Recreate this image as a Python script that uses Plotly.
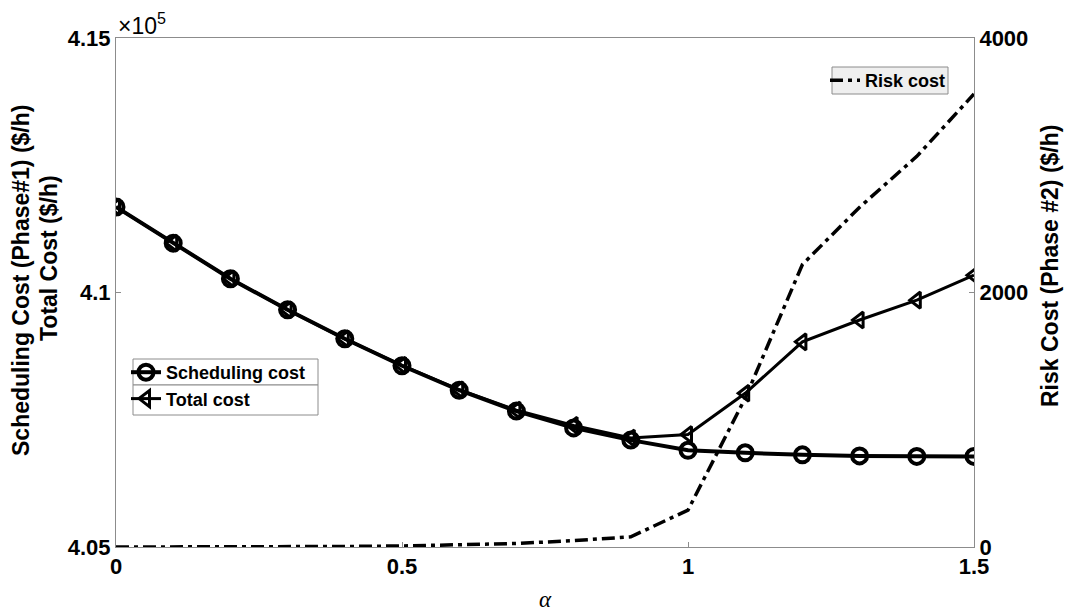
import plotly.graph_objects as go

# weighting factor alpha
alpha = [0.0, 0.1, 0.2, 0.3, 0.4, 0.5, 0.6, 0.7, 0.8, 0.9, 1.0, 1.1, 1.2, 1.3, 1.4, 1.5]

# Phase 1 scheduling cost ($/h)
scheduling_cost = [411680, 410970, 410270, 409660, 409090, 408560, 408080, 407670,
                   407340, 407100, 406900, 406850, 406810, 406790, 406780, 406780]

# total cost ($/h)
total_cost = [411680, 410970, 410270, 409660, 409090, 408570, 408090, 407690,
              407390, 407140, 407210, 408020, 409030, 409460, 409850, 410340]

# Phase 2 risk cost ($/h)
risk_cost = [0, 0, 1, 2, 4, 8, 15, 28, 50, 80, 290, 1170, 2220, 2670, 3070, 3560]

left_tickvals = [405000, 410000, 415000]
left_ticktext = ["4.05", "4.1", "4.15"]
right_tickvals = [0, 2000, 4000]
x_tickvals = [0, 0.5, 1, 1.5]
x_ticktext = ["0", "0.5", "1", "1.5"]

FONT = "Liberation Sans"
AXIS_GRAY = "#8c8c8c"

# plot area in pixels (from the margins below) for placing legend frames
PX_L, PX_R, PX_T, PX_B = 116, 974, 38, 547


def px_x(px):
    return (px - PX_L) / (PX_R - PX_L)


def px_y(py):
    return (PX_B - py) / (PX_B - PX_T)


fig = go.Figure()

fig.add_trace(go.Scatter(
    x=alpha, y=scheduling_cost, name="Scheduling cost", mode="lines+markers",
    line=dict(color="black", width=4),
    marker=dict(symbol="circle-open", size=15, color="black", line=dict(width=4)),
    legend="legend",
))
fig.add_trace(go.Scatter(
    x=alpha, y=total_cost, name="Total cost", mode="lines+markers",
    line=dict(color="black", width=3),
    marker=dict(symbol="triangle-left-open", size=14, color="black", line=dict(width=3)),
    legend="legend",
))
fig.add_trace(go.Scatter(
    x=alpha, y=risk_cost, name="Risk cost", mode="lines", yaxis="y2",
    line=dict(color="black", width=3.5, dash="13px,5px,4px,5px"),
    legend="legend2",
))

tick_font = dict(family=FONT, size=22, color="black", weight="bold")
title_font = dict(family=FONT, size=23, color="black", weight="bold")
legend_font = dict(family=FONT, size=18, color="black", weight="bold")

fig.update_layout(
    width=1068, height=611,
    margin=dict(l=PX_L, r=1068 - PX_R, t=PX_T, b=611 - PX_B),
    paper_bgcolor="white", plot_bgcolor="white",
    font=dict(family=FONT, color="black"),
    xaxis=dict(
        range=[0, 1.5], tickvals=x_tickvals, ticktext=x_ticktext,
        ticks="inside", ticklen=5, tickcolor=AXIS_GRAY, tickwidth=1,
        showline=True, linecolor=AXIS_GRAY, linewidth=1, mirror=True,
        showgrid=False, zeroline=False, tickfont=tick_font,
    ),
    yaxis=dict(
        range=[405000, 415000], tickvals=left_tickvals, ticktext=left_ticktext,
        ticks="inside", ticklen=5, tickcolor=AXIS_GRAY, tickwidth=1,
        showline=True, linecolor=AXIS_GRAY, linewidth=1,
        showgrid=False, zeroline=False, tickfont=tick_font,
    ),
    yaxis2=dict(
        range=[0, 4000], tickvals=right_tickvals, overlaying="y", side="right",
        ticks="inside", ticklen=5, tickcolor=AXIS_GRAY, tickwidth=1,
        showline=True, linecolor=AXIS_GRAY, linewidth=1,
        showgrid=False, zeroline=False, tickfont=tick_font,
    ),
    legend=dict(
        x=px_x(126), y=px_y(354), xanchor="left", yanchor="top",
        bgcolor="rgba(0,0,0,0)", borderwidth=0,
        font=legend_font, itemwidth=30, tracegroupgap=0,
    ),
    legend2=dict(
        x=px_x(825), y=px_y(62), xanchor="left", yanchor="top",
        bgcolor="rgba(0,0,0,0)", borderwidth=0,
        font=legend_font, itemwidth=30,
    ),
    showlegend=True,
)

# legend frames: two stacked boxes for the cost legend, one grey box for risk
for top, bottom in [(359, 385), (385, 415)]:
    fig.add_shape(
        type="rect", xref="paper", yref="paper", layer="above",
        x0=px_x(133), x1=px_x(318), y0=px_y(bottom), y1=px_y(top),
        fillcolor="white", line=dict(color=AXIS_GRAY, width=1),
    )
fig.add_shape(
    type="rect", xref="paper", yref="paper", layer="above",
    x0=px_x(832), x1=px_x(948), y0=px_y(94), y1=px_y(67),
    fillcolor="#efefef", line=dict(color=AXIS_GRAY, width=1),
)

# exponent label for the left axis
fig.add_annotation(
    x=0, y=1, xref="paper", yref="paper", xanchor="left", yanchor="bottom",
    text="×10<sup>5</sup>", showarrow=False, yshift=-3,
    font=dict(family=FONT, size=23, color="black"),
)

# x axis label
fig.add_annotation(
    x=0.5, y=px_y(599), xref="paper", yref="paper", xanchor="center", yanchor="middle",
    text="<i>α</i>", showarrow=False,
    font=dict(family="Liberation Serif", size=23, color="black"),
)

# y axis titles
fig.add_annotation(
    x=px_x(21), y=px_y(281), xref="paper", yref="paper", xanchor="center", yanchor="middle",
    textangle=-90, text="Scheduling Cost (Phase#1) ($/h)", showarrow=False,
    font=title_font,
)
fig.add_annotation(
    x=px_x(49), y=px_y(258), xref="paper", yref="paper", xanchor="center", yanchor="middle",
    textangle=-90, text="Total Cost ($/h)", showarrow=False,
    font=title_font,
)
fig.add_annotation(
    x=px_x(1050), y=px_y(266), xref="paper", yref="paper", xanchor="center", yanchor="middle",
    textangle=-90, text="Risk Cost (Phase #2) ($/h)", showarrow=False,
    font=title_font,
)

fig.write_html("out.html")
